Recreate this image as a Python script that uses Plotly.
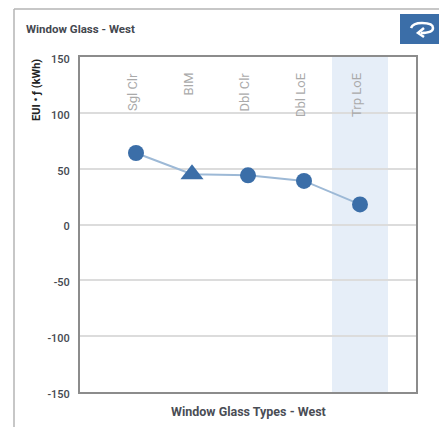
import plotly.graph_objects as go

categories = ["Sgl Clr", "BIM", "Dbl Clr", "Dbl LoE", "Trp LoE"]
values = [64, 45, 44, 39, 18]
symbols = ["circle", "triangle-up", "circle", "circle", "circle"]
marker_sizes = [16, 20, 16, 16, 16]
y_ticks = [150, 100, 50, 0, -50, -100, -150]
y_tick_labels = ["150", "100", "50", "0", "-50", "-100", "-150"]
highlight = "Trp LoE"
title = "Window Glass - West"
x_title = "Window Glass Types - West"
y_title = "EUI • ƒ (kWh)"

W, H = 439, 427
L, R, T, B = 80, 416, 57, 392
BLUE = "#3b6ea8"
FONT = "Roboto, sans-serif"
xs = list(range(len(categories)))
hi = categories.index(highlight)


def px(v):
    return (v - L) / (R - L)


def py(v):
    return (B - v) / (B - T)


fig = go.Figure()
fig.add_trace(go.Scatter(
    x=xs, y=values, mode="lines+markers",
    line=dict(color="#9db9d6", width=2),
    marker=dict(color=BLUE, size=marker_sizes, symbol=symbols, opacity=1, line=dict(width=0)),
    hoverinfo="skip", showlegend=False,
))

shapes = [
    dict(type="rect", xref="x", yref="paper", x0=hi - 0.5, x1=hi + 0.5, y0=0, y1=1,
         fillcolor="#e6eef8", line_width=0, layer="below"),
    dict(type="line", xref="paper", yref="paper", x0=px(14), x1=px(445), y0=py(9), y1=py(9),
         line=dict(color="#b4b4b4", width=1.5)),
    dict(type="line", xref="paper", yref="paper", x0=px(14), x1=px(14), y0=py(9), y1=py(432),
         line=dict(color="#b4b4b4", width=1.5)),
    dict(type="rect", xref="paper", yref="paper", x0=px(400), x1=px(445), y0=py(14), y1=py(44),
         fillcolor=BLUE, line_width=0),
    dict(type="path", xref="paper", yref="paper",
         path=f"M {px(411)} {py(28)} Q {px(413)} {py(23)} {px(422)} {py(23)} "
              f"Q {px(433)} {py(23)} {px(433)} {py(28)} Q {px(433)} {py(33)} {px(421)} {py(33)}",
         line=dict(color="white", width=2.5)),
    dict(type="path", xref="paper", yref="paper",
         path=f"M {px(424)} {py(28)} L {px(418)} {py(33)} L {px(424)} {py(37)}",
         line=dict(color="white", width=2.5)),
]

annotations = [
    dict(text=f"<b>{title}</b>", xref="paper", yref="paper", x=px(24), y=py(29),
         xanchor="left", yanchor="middle", showarrow=False,
         font=dict(size=11.5, color="#44484f", family=FONT)),
    dict(text=f"<b>{x_title}</b>", xref="paper", yref="paper", x=px(248), y=py(411),
         xanchor="center", yanchor="middle", showarrow=False,
         font=dict(size=12.5, color="#4a4d55", family=FONT)),
    dict(text=f"<b>{y_title}</b>", xref="paper", yref="paper", x=px(36), y=py(90),
         xanchor="center", yanchor="middle", showarrow=False, textangle=-90,
         font=dict(size=11, color="#222222", family=FONT)),
]
for i, c in enumerate(categories):
    annotations.append(dict(
        text=c, x=i, y=max(y_ticks), xref="x", yref="y", yshift=-14, xshift=-4,
        xanchor="center", yanchor="top", showarrow=False, textangle=-90,
        font=dict(size=13, color="#aaaaaa", family=FONT),
    ))

fig.update_layout(
    width=W, height=H, autosize=False,
    margin=dict(l=L, r=W - R, t=T, b=H - B, pad=0),
    paper_bgcolor="white", plot_bgcolor="rgba(0,0,0,0)",
    shapes=shapes, annotations=annotations,
    xaxis=dict(range=[-1, 5], showticklabels=False, ticks="", showgrid=False, zeroline=False,
               showline=True, linecolor="#8c8c8c", linewidth=2, mirror=True, fixedrange=True),
    yaxis=dict(range=[-150, 150], tickvals=y_ticks, ticktext=y_tick_labels, ticks="", showgrid=True,
               gridcolor="#dcdcdc", gridwidth=1.5, zeroline=False, showline=True,
               linecolor="#8c8c8c", linewidth=2, mirror=True, fixedrange=True, ticklabelstandoff=6,
               ticklabelshift=2,
               tickfont=dict(size=11, color="#44484f", family="Roboto Medium, Roboto, sans-serif"),
               layer="above traces"),
)
fig.write_html("out.html", config=dict(displayModeBar=False),
               post_script="document.body.style.margin='0';")
